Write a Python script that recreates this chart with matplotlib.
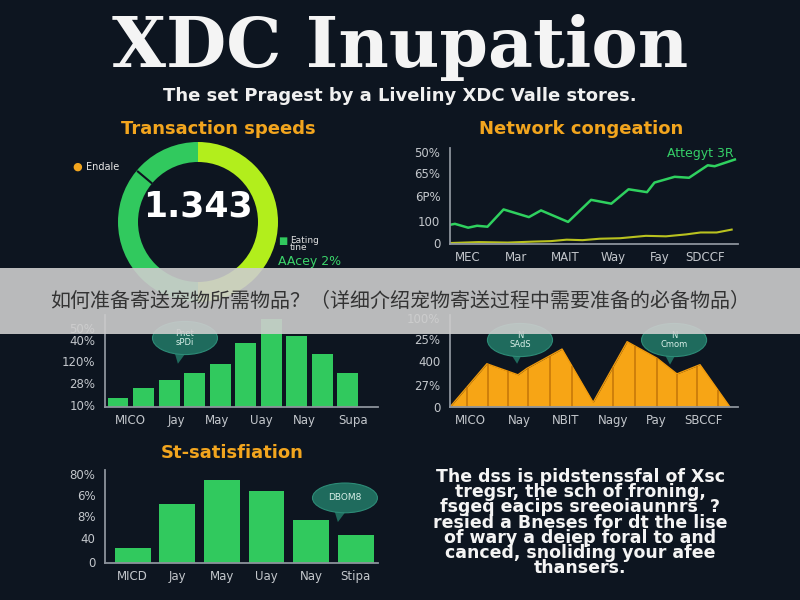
import numpy as np
import matplotlib.pyplot as plt
from matplotlib.patches import Ellipse, Polygon, Rectangle

W, H = 800, 600
BG = '#0d1520'
ORANGE = '#f2a51e'
GREEN = '#31c95e'
LIME = '#b2ee1c'
TEAL = '#1f6b5d'
AXC = '#8c939c'
TICKC = '#c3c7cc'

# transaction speeds donut
speed_parts = [50, 50]
speed_value = '1.343'

# network congestion (x in 0-100 scale)
net_x = [0, 1.7, 6.3, 9.4, 13, 18.6, 27.4, 31.6, 41, 49, 56, 62, 68.4, 71, 78, 83, 89.5, 91.9, 98.9]
net_green = [20, 21, 17, 19, 18, 36, 28, 35, 23, 46, 42, 57, 54, 64, 70, 69, 82, 81, 88]
net_yx = [0, 10, 20, 29, 35, 40.5, 46, 52, 59, 68, 75, 82, 87, 92.6, 97.8]
net_yellow = [1, 2, 1.5, 2.5, 3, 4.5, 4, 5.5, 6, 8.5, 8, 10, 12, 12, 15]
net_yticks = [96, 74, 50, 24, 1]
net_ylabels = ['50%', '65%', '6P%', '100', '0']
net_xticks = [6.3, 23, 40, 56.6, 73, 88.5]
net_xlabels = ['MEC', 'Mar', 'MAIT', 'Way', 'Fay', 'SDCCF']

# middle-left bars
mid_vals = [10, 21, 29, 37, 47, 70, 96, 77, 58, 37]
mid_yticks = [86, 73, 50, 26, 2]
mid_ylabels = ['50%', '40%', '120%', '28%', '10%']
mid_xticks = [0.47, 2.3, 3.9, 5.6, 7.3, 9.2]
mid_xlabels = ['MICO', 'Jay', 'May', 'Uay', 'Nay', 'Supa']

# middle-right area
area_x = [0, 12.8, 23.6, 26.7, 38.9, 49.7, 61.5, 71.9, 78.8, 86.8, 97.2]
area_y = [0, 47, 35, 42, 63, 5, 71, 53, 36, 46, 0]
stripe_x = [5.9, 13.2, 20.1, 27.1, 34.7, 42.4, 56.6, 64.2, 71.9, 78.8, 85.8, 93.1]
area_yticks = [97, 74, 50, 24, 0]
area_ylabels = ['100%', '25%', '400', '27%', '0']
area_xticks = [7, 24, 40, 56.6, 71.5, 88]
area_xlabels = ['MICO', 'Nay', 'NBIT', 'Nagy', 'Pay', 'SBCCF']

# satisfaction bars
sat_vals = [16, 63, 89, 77, 46, 30]
sat_yticks = [96, 73, 51, 27, 1]
sat_ylabels = ['80%', '6%', '8%', '40', '0']
sat_xlabels = ['MICD', 'Jay', 'May', 'Uay', 'Nay', 'Stipa']

body_text = ("The dss is pidstenssfal of Xsc\n"
             "tregsr, the sch of froning,\n"
             "fsgeq eacips sreeoiaunnrs  ?\n"
             "resied a Bneses for dt the lise\n"
             "of wary a deiep foral to and\n"
             "canced, snoliding your afee\n"
             "thansers.")

banner_text = '如何准备寄送宠物所需物品？（详细介绍宠物寄送过程中需要准备的必备物品）'

fig = plt.figure(figsize=(8, 6), dpi=100, facecolor=BG)


def px_axes(left, top, right, bottom):
    return fig.add_axes([left / W, 1 - bottom / H, (right - left) / W, (bottom - top) / H])


def ftext(x, y, s, **kw):
    return fig.text(x / W, 1 - y / H, s, **kw)


def style_axes(ax):
    ax.set_facecolor('none')
    for s in ['top', 'right']:
        ax.spines[s].set_visible(False)
    for s in ['left', 'bottom']:
        ax.spines[s].set_color(AXC)
        ax.spines[s].set_linewidth(1.3)
    ax.tick_params(length=0, colors=TICKC, labelsize=8.5)
    ax.tick_params(axis='y', pad=7)
    ax.tick_params(axis='x', pad=5)


def bubble(ax, cx, cy, w, h, tip, text, fs=6):
    ax.add_patch(Polygon([(cx - w * 0.18, cy - h * 0.3), (cx + w * 0.05, cy - h * 0.35), tip],
                         transform=ax.transAxes, fc=TEAL, ec='none', clip_on=False, zorder=4))
    ax.add_patch(Ellipse((cx, cy), w, h, transform=ax.transAxes, fc=TEAL, ec='#2d8b77',
                         lw=0.8, clip_on=False, zorder=4))
    ax.text(cx, cy, text, transform=ax.transAxes, ha='center', va='center',
            color='#d8efe8', fontsize=fs, linespacing=0.9, zorder=5)


# header
ftext(400, 67, 'XDC Inupation', ha='center', va='baseline', color='#f4f4f4',
      fontsize=50, fontweight='bold', family='DejaVu Serif')
ftext(400, 96, 'The set Pragest by a Liveliny XDC Valle stores.', ha='center', va='center',
      color='#f0f0f0', fontsize=13, fontweight='bold')

# panel titles
title_kw = dict(ha='center', va='center', color=ORANGE, fontsize=13, fontweight='bold')
ftext(218, 129, 'Transaction speeds', **title_kw)
ftext(581, 129, 'Network congeation', **title_kw)
ftext(232, 453, 'St-satisfiation', **title_kw)

# donut
ax1 = px_axes(98, 122, 298, 322)
ax1.pie(speed_parts, colors=[GREEN, LIME], startangle=90, radius=1,
        wedgeprops=dict(width=0.25, edgecolor='none'))
ax1.set_xlim(-1.25, 1.25)
ax1.set_ylim(-1.25, 1.25)
ang = np.deg2rad(140)
ax1.plot([0.76 * np.cos(ang), 0.98 * np.cos(ang)], [0.76 * np.sin(ang), 0.98 * np.sin(ang)],
         color=BG, lw=1.5)
ax1.text(0, 0.19, speed_value, ha='center', va='center', color='white',
         fontsize=25, fontweight='bold')
ax1.axis('off')
ftext(72, 167, '●', ha='left', va='center', color=ORANGE, fontsize=8)
ftext(86, 167, 'Endale', ha='left', va='center', color='#e8e8e8', fontsize=7)
ftext(278, 241, '■', ha='left', va='center', color=GREEN, fontsize=7)
ftext(290, 244, 'Eating\ntine', ha='left', va='center', color='#e0e0e0', fontsize=6.5,
      linespacing=0.85)
ftext(278, 262, 'AAcey 2%', ha='left', va='center', color='#3bd46a', fontsize=9)

# network congestion lines
ax2 = px_axes(450, 148, 738, 244)
style_axes(ax2)
ax2.plot(net_x, net_green, color='#2fd15f', lw=1.8)
ax2.plot(net_yx, net_yellow, color='#b9c21f', lw=1.5)
ax2.set_xlim(0, 100)
ax2.set_ylim(0, 100)
ax2.set_yticks(net_yticks, net_ylabels)
ax2.set_xticks(net_xticks, net_xlabels)
ax2.text(98.5, 94, 'Attegyt 3R', ha='right', va='center', color='#35d068', fontsize=9)

# middle-left bars
ax3 = px_axes(105, 315, 378, 407)
style_axes(ax3)
ax3.bar(np.arange(len(mid_vals)), mid_vals, width=0.82, color=GREEN)
ax3.set_xlim(-0.51, 10.19)
ax3.set_ylim(0, 100)
ax3.set_yticks(mid_yticks, mid_ylabels)
ax3.set_xticks(mid_xticks, mid_xlabels)
bubble(ax3, 0.293, 0.75, 0.238, 0.36, (0.267, 0.47), 'Pnet\nsPDi')

# middle-right area
ax4 = px_axes(450, 315, 738, 407)
style_axes(ax4)
ax4.fill_between(area_x, area_y, color='#f7a515', lw=0)
ax4.plot(area_x, area_y, color='#f09a0c', lw=1)
ax4.vlines(stripe_x, 0, np.interp(stripe_x, area_x, area_y), color='#c47608', lw=1.1)
ax4.set_xlim(0, 100)
ax4.set_ylim(0, 100)
ax4.set_yticks(area_yticks, area_ylabels)
ax4.set_xticks(area_xticks, area_xlabels)
bubble(ax4, 0.243, 0.728, 0.226, 0.36, (0.233, 0.47), 'N\nSAdS')
bubble(ax4, 0.778, 0.728, 0.226, 0.36, (0.764, 0.46), 'N\nCmom')

# satisfaction bars
ax5 = px_axes(105, 470, 378, 563)
style_axes(ax5)
ax5.bar(np.arange(len(sat_vals)), sat_vals, width=0.8, color=GREEN)
ax5.set_xlim(-0.62, 5.5)
ax5.set_ylim(0, 100)
ax5.set_yticks(sat_yticks, sat_ylabels)
ax5.set_xticks(np.arange(len(sat_xlabels)), sat_xlabels)
bubble(ax5, 0.879, 0.70, 0.238, 0.32, (0.853, 0.44), 'DBOM8', fs=6.5)

# text block
ftext(580, 468, body_text, ha='center', va='top', color='#f4f4f4', fontsize=12.5,
      fontweight='bold', linespacing=0.8)

# grey banner
fig.patches.append(Rectangle((0, 1 - 334 / H), 1, 66 / H, transform=fig.transFigure,
                             fc='#cdcdcd', alpha=0.9, ec='none', zorder=5))
ftext(50, 301, banner_text, ha='left', va='center', color='#333333', fontsize=14.4,
      family=['Noto Sans CJK SC', 'DejaVu Sans'], zorder=6)

fig.savefig('out.png', dpi=100, facecolor=BG)
